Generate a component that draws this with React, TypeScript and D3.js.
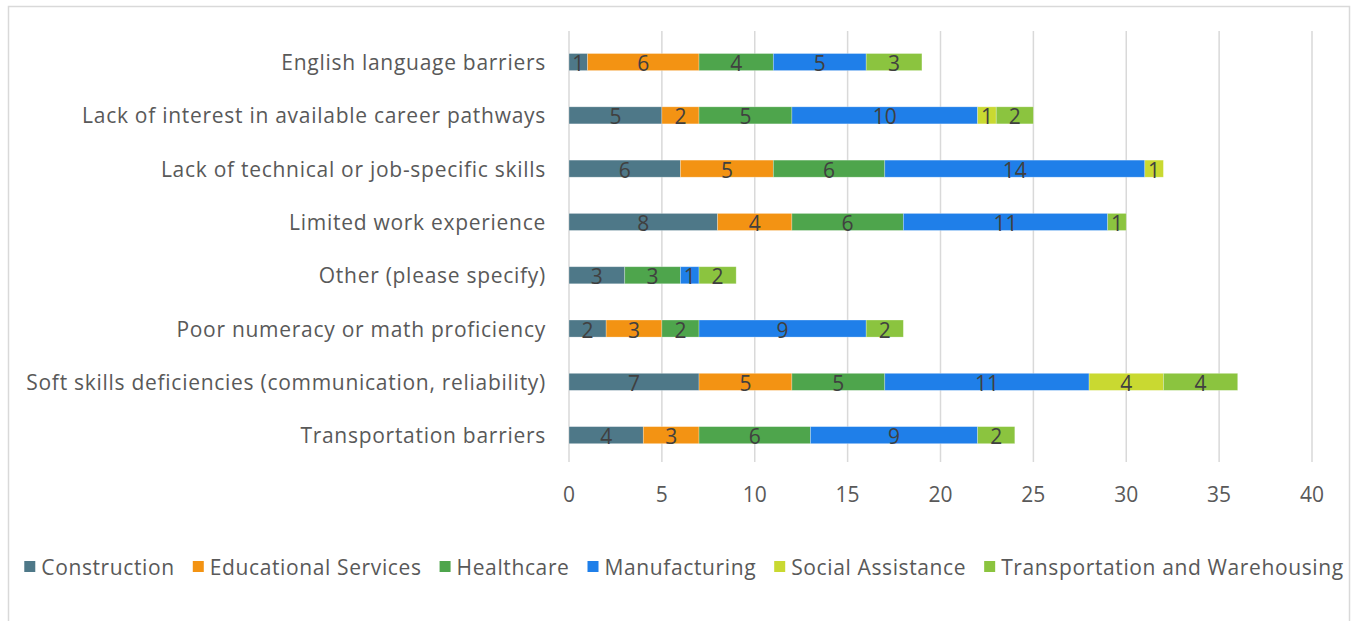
import React, { useLayoutEffect, useRef, useState } from "react";
import * as d3 from "d3";

const categories = [
  "English language barriers",
  "Lack of interest in available career pathways",
  "Lack of technical or job-specific skills",
  "Limited work experience",
  "Other (please specify)",
  "Poor numeracy or math proficiency",
  "Soft skills deficiencies (communication, reliability)",
  "Transportation barriers",
];
const seriesNames = [
  "Construction",
  "Educational Services",
  "Healthcare",
  "Manufacturing",
  "Social Assistance",
  "Transportation and Warehousing",
];
const construction = [1, 5, 6, 8, 3, 2, 7, 4];
const educational = [6, 2, 5, 4, 0, 3, 5, 3];
const healthcare = [4, 5, 6, 6, 3, 2, 5, 6];
const manufacturing = [5, 10, 14, 11, 1, 9, 11, 9];
const socialAssistance = [0, 1, 1, 0, 0, 0, 4, 0];
const transportation = [3, 2, 0, 1, 2, 2, 4, 2];
const xTicks = [0, 5, 10, 15, 20, 25, 30, 35, 40];
const colors = ["#4E7888", "#F39313", "#4EA54C", "#1F7FE9", "#C9D931", "#8BC43F"];

const W = 1356;
const H = 621;
const FONT = "'Open Sans', sans-serif";

export default function App() {
  const seriesValues = [construction, educational, healthcare, manufacturing, socialAssistance, transportation];
  const rows = categories.map((c, i) => {
    const r: any = { category: c };
    seriesNames.forEach((s, j) => (r[s] = seriesValues[j][i]));
    return r;
  });
  const stacked = d3.stack<any>().keys(seriesNames)(rows);

  const x = d3.scaleLinear().domain([0, 40]).range([569, 1312]);
  const y = d3
    .scaleBand<string>()
    .domain(categories)
    .range([35.4, 461.8])
    .paddingInner(0.68)
    .paddingOuter(0.34);

  const legendRef = useRef<SVGGElement>(null);
  const [legendX, setLegendX] = useState<number[] | null>(null);
  const swatch = 11;
  const swGap = 6;
  const itemGap = 18;

  useLayoutEffect(() => {
    const g = legendRef.current;
    if (!g) return;
    const texts = Array.from(g.querySelectorAll("text")) as SVGTextElement[];
    const widths = texts.map((t) => t.getBBox().width);
    const total =
      widths.reduce((a, w) => a + swatch + swGap + w, 0) + itemGap * (widths.length - 1);
    let cx = 684 - total / 2;
    const xs: number[] = [];
    widths.forEach((w) => {
      xs.push(cx);
      cx += swatch + swGap + w + itemGap;
    });
    setLegendX(xs);
  }, []);

  return (
    <svg
      width={W}
      height={H}
      style={{ position: "absolute", left: 0, top: 0, background: "#fff" }}
    >
      <rect x={8.5} y={6.5} width={1341} height={700} fill="#fff" stroke="#D9D9D9" strokeWidth={1.5} />

      {/* gridlines */}
      {xTicks.map((t) => (
        <line key={t} x1={x(t)} x2={x(t)} y1={31} y2={462} stroke="#D9D9D9" strokeWidth={1.5} />
      ))}

      {/* bars */}
      {stacked.map((layer, si) => (
        <g key={layer.key}>
          {layer.map((d, ci) => {
            const v = d[1] - d[0];
            if (v <= 0) return null;
            const cat = categories[ci];
            const y0 = y(cat)!;
            return (
              <g key={cat}>
                <rect
                  x={x(d[0])}
                  y={y0}
                  width={x(d[1]) - x(d[0])}
                  height={y.bandwidth()}
                  fill={colors[si]}
                  stroke="rgba(255,255,255,0.35)"
                  strokeWidth={0.75}
                />
                <text
                  x={(x(d[0]) + x(d[1])) / 2}
                  y={y0 + y.bandwidth() / 2 + 1}
                  textAnchor="middle"
                  dominantBaseline="central"
                  fontFamily={FONT}
                  fontSize={21}
                  fill="#404040"
                >
                  {v}
                </text>
              </g>
            );
          })}
        </g>
      ))}

      {/* category labels */}
      {categories.map((c) => (
        <text
          key={c}
          x={546}
          y={y(c)! + y.bandwidth() / 2}
          textAnchor="end"
          dominantBaseline="central"
          fontFamily={FONT}
          fontSize={21}
          letterSpacing={0.72}
          fill="#595959"
        >
          {c}
        </text>
      ))}

      {/* x tick labels */}
      {xTicks.map((t) => (
        <text
          key={t}
          x={x(t)}
          y={494}
          textAnchor="middle"
          dominantBaseline="central"
          fontFamily={FONT}
          fontSize={21}
          fill="#595959"
        >
          {t}
        </text>
      ))}

      {/* legend */}
      <g ref={legendRef}>
        {seriesNames.map((s, i) => {
          const lx = legendX ? legendX[i] : 0;
          return (
            <g key={s} transform={`translate(${lx},0)`} opacity={legendX ? 1 : 0}>
              <rect x={0} y={561} width={swatch} height={11} fill={colors[i]} />
              <text
                x={swatch + swGap}
                y={567}
                dominantBaseline="central"
                fontFamily={FONT}
                fontSize={21}
                letterSpacing={0.62}
                fill="#595959"
              >
                {s}
              </text>
            </g>
          );
        })}
      </g>
    </svg>
  );
}
